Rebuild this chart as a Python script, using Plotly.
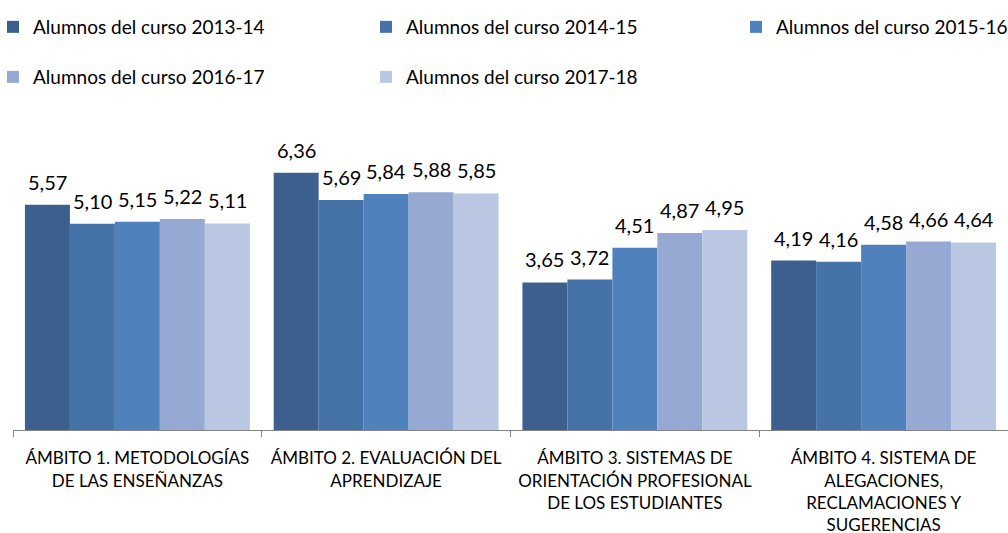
import plotly.graph_objects as go

categories = [
    "ÁMBITO 1. METODOLOGÍAS<br>DE LAS ENSEÑANZAS",
    "ÁMBITO 2. EVALUACIÓN DEL<br>APRENDIZAJE",
    "ÁMBITO 3. SISTEMAS DE<br>ORIENTACIÓN PROFESIONAL<br>DE LOS ESTUDIANTES",
    "ÁMBITO 4. SISTEMA DE<br>ALEGACIONES,<br>RECLAMACIONES Y<br>SUGERENCIAS",
]
series_names = [
    "Alumnos del curso 2013-14",
    "Alumnos del curso 2014-15",
    "Alumnos del curso 2015-16",
    "Alumnos del curso 2016-17",
    "Alumnos del curso 2017-18",
]
v_2013_14 = [5.57, 6.36, 3.65, 4.19]
v_2014_15 = [5.10, 5.69, 3.72, 4.16]
v_2015_16 = [5.15, 5.84, 4.51, 4.58]
v_2016_17 = [5.22, 5.88, 4.87, 4.66]
v_2017_18 = [5.11, 5.85, 4.95, 4.64]
series_values = [v_2013_14, v_2014_15, v_2015_16, v_2016_17, v_2017_18]
colors = ["#3C5F8E", "#4573A8", "#4F81BD", "#95A9D2", "#B9C7E3"]

FONT = "Lato"
LABEL_SIZE = 20
LEGEND_SIZE = 19
TICK_SIZE = 17

W, H = 1008, 533
ml, mr, mt, mb = 13, 0, 147, 103
pw = W - ml - mr
ph = H - mt - mb
BARGAP = 0.096
n_series = len(series_names)
bar_px = pw / len(categories) * (1 - BARGAP) / n_series

def px_x(x):
    return (x - ml) / pw

def px_y(y):
    return (H - mb - y) / ph

# legend entries laid out in rows & columns like the original
legend_pos = [(-7, 27), (366, 27), (736, 27), (-7, 77), (366, 77)]
legend_ids = ["legend", "legend2", "legend3", "legend4", "legend5"]

fig = go.Figure()
for i, (name, vals, col) in enumerate(zip(series_names, series_values, colors)):
    fig.add_trace(go.Bar(
        name=name,
        x=categories,
        y=vals,
        marker=dict(color=col, line=dict(width=0)),
        legend=legend_ids[i],
        showlegend=True,
        hovertemplate="%{y:.2f}<extra>" + name + "</extra>",
    ))
    for cat, v in zip(categories, vals):
        fig.add_annotation(
            x=cat, y=v, xref="x", yref="y",
            text=f"{v:.2f}".replace(".", ","),
            showarrow=False,
            xanchor="center", yanchor="bottom",
            xshift=(i - (n_series - 1) / 2) * bar_px,
            yshift=9,
            font=dict(family=FONT, size=LABEL_SIZE, color="#000000"),
        )

legend_layouts = {}
for lid, (lx, ly) in zip(legend_ids, legend_pos):
    legend_layouts[lid] = dict(
        orientation="h",
        font=dict(family=FONT, size=LEGEND_SIZE, color="#000000"),
        x=px_x(lx), y=px_y(ly),
        xanchor="left", yanchor="middle",
        bgcolor="rgba(0,0,0,0)",
        borderwidth=0,
        visible=True,
        itemclick=False, itemdoubleclick=False,
    )

fig.update_layout(
    width=W,
    height=H,
    showlegend=True,
    margin=dict(l=ml, r=mr, t=mt, b=mb, pad=0, autoexpand=False),
    paper_bgcolor="#FFFFFF",
    plot_bgcolor="#FFFFFF",
    separators=",.",
    barmode="group",
    bargap=BARGAP,
    bargroupgap=0,
    font=dict(family=FONT, color="#000000"),
    xaxis=dict(
        showline=True,
        linecolor="#868686",
        linewidth=1,
        ticks="outside",
        tickson="boundaries",
        ticklen=6,
        tickcolor="#868686",
        tickfont=dict(family=FONT, size=TICK_SIZE, color="#000000"),
        ticklabelstandoff=13,
        showgrid=False,
        zeroline=False,
        automargin=False,
    ),
    yaxis=dict(
        range=[0, 7],
        visible=False,
        showgrid=False,
        zeroline=False,
    ),
    **legend_layouts,
)

fig.write_html(
    "out.html",
    config={"displayModeBar": False},
    post_script="document.body.style.margin='0px'; document.body.style.overflow='hidden';",
)
